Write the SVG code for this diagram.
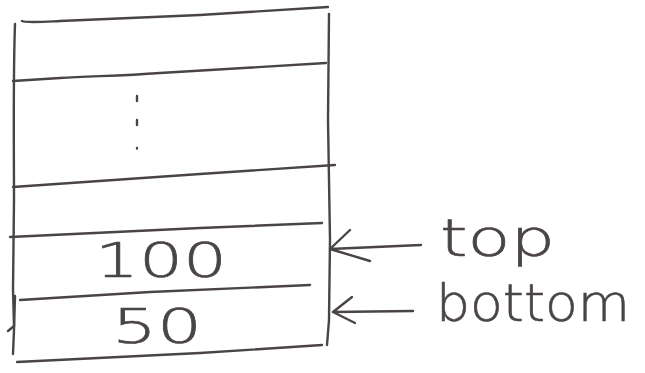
<svg xmlns="http://www.w3.org/2000/svg" width="645" height="373" viewBox="0 0 645 373">
<style>
.ln{fill:none;stroke:#4a4446;stroke-width:2.4;stroke-linecap:round;stroke-linejoin:round}
.lb{font-family:"DejaVu Sans","Liberation Sans",sans-serif;font-weight:200;fill:#4a4446;stroke:#4a4446;stroke-width:0.6}
</style>
<rect width="645" height="373" fill="#ffffff"/>
<g id="stack">
<path class="ln" d="M22,21 C26,23 40,22 60,21 L200,15 L328,7"/>
<path class="ln" d="M15,24 C13,80 14,150 14,200 L13,290 L14,326 L8,331"/>
<path class="ln" d="M15,296 L14,330 L13,354"/>
<path class="ln" d="M329,14 L328,120 L330,240 L329,320 L327,345"/>
<path class="ln" d="M13,81 L60,78 C90,76 120,76 160,73 L326,63"/>
<path class="ln" d="M13,187 L200,174 L335,165"/>
<path class="ln" d="M10,237 L200,228 L322,223"/>
<path class="ln" d="M20,300 L150,292 L310,285"/>
<path class="ln" d="M17,362 L200,353 L322,345"/>
</g>
<g id="dots">
<path class="ln" d="M137,96 L137,101 M137,120 L137,125 M137,148 L137,148.5"/>
</g>
<g id="cell-100">
<text class="lb" x="95" y="277" font-size="48" textLength="132" lengthAdjust="spacingAndGlyphs">100</text>
</g>
<g id="cell-50">
<text class="lb" x="112" y="343" font-size="48" textLength="90" lengthAdjust="spacingAndGlyphs">50</text>
</g>
<g id="connectors">
<path class="ln" d="M421,245 L330,249 M350,230 L330,249 L370,261"/>
<path class="ln" d="M413,311 L333,312 M352,297 L333,312 L355,323"/>
</g>
<g id="label-top">
<text class="lb" x="440" y="256" font-size="52" textLength="115" lengthAdjust="spacingAndGlyphs">top</text>
</g>
<g id="label-bottom">
<text class="lb" x="436" y="321" font-size="52" textLength="194" lengthAdjust="spacingAndGlyphs">bottom</text>
</g>
</svg>
